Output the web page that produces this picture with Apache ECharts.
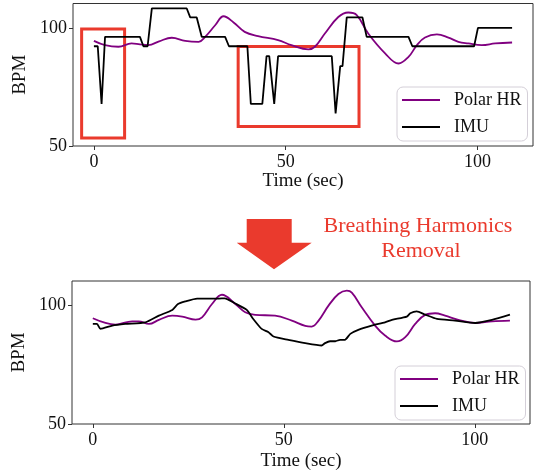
<!DOCTYPE html>
<html>
<head>
<meta charset="utf-8">
<script src="https://cdn.jsdelivr.net/npm/echarts@6/dist/echarts.min.js"></script>
<style>
  html, body { margin: 0; padding: 0; background: #fff; }
  #chart { width: 542px; height: 475px; }
</style>
</head>
<body>
<div id="chart"></div>
<script>
// Raw heart-rate traces (seconds, BPM) before breathing-harmonics removal
const rawPolarT  = [0, 2.9, 6.4, 9.8, 12, 14.2, 17, 20.3, 23.8, 27.3, 29, 31.6, 33.8, 36.4, 39.3, 42.8, 48, 51.5, 55.9, 57.6, 60.2, 63.7, 66.3, 68.5, 71.5, 75.9, 79.4, 82, 84.2, 86.3, 89.4, 92.4, 95, 97.6, 101.1, 104.6, 109];
const rawPolarHR = [94.5, 92.7, 92.0, 93.4, 93.0, 92.7, 94.3, 95.8, 94.5, 94.1, 96.2, 101.1, 104.9, 102.3, 98.3, 96.5, 94.8, 92.7, 90.9, 92.0, 97.6, 104.6, 106.5, 105.4, 97.6, 89.2, 84.9, 87.7, 92.7, 95.9, 97.2, 95.9, 94.1, 93.4, 92.7, 93.4, 93.8];

const rawImuT  = [0, 1, 2, 2.9, 12, 12.9, 14, 15.1, 24.2, 25.1, 26.8, 28.1, 34.2, 35.2, 40, 40.9, 43.9, 45, 45.7, 47, 48, 62, 63, 64.2, 64.8, 65.9, 70, 71.1, 82, 83, 99.1, 100.1, 109];
const rawImuHR = [92.2, 92.2, 67.8, 96.2, 96.2, 92.2, 92.2, 108.2, 108.2, 104.4, 104.4, 96.2, 96.2, 92.2, 92.2, 67.8, 67.8, 88, 88, 67.8, 88, 88, 63.8, 83.8, 83.8, 104.4, 104.4, 96.2, 96.2, 92.2, 92.2, 100, 100];

// Traces after breathing-harmonics removal
const cleanPolarT  = [0, 3.3, 5.9, 10.3, 12, 14.7, 17.3, 20.8, 23.4, 26.9, 28.6, 31.2, 33.8, 37.3, 39.9, 42.5, 47.7, 52.1, 55.6, 57.3, 59.1, 61.7, 64.3, 66.5, 67.8, 70.4, 73.9, 76.5, 79.6, 81.8, 84.4, 87, 89.6, 92.2, 95.7, 100.1, 104.5, 109.2];
const cleanPolarHR = [94.6, 92.6, 91.9, 93.3, 93.3, 92.2, 93.9, 95.7, 95.3, 94.0, 95.0, 100.6, 104.5, 100.6, 97.1, 96.0, 95.7, 93.6, 91.4, 91.1, 93.6, 99.9, 104.8, 106.2, 105.4, 99.2, 91.5, 87.3, 84.8, 86.6, 92.2, 96.0, 96.7, 95.7, 93.9, 92.6, 93.3, 93.6];

const cleanImuT  = [0, 1.1, 2, 5.1, 8.5, 13.8, 17.3, 20.8, 22.3, 24.2, 27.3, 33, 34.5, 37.3, 40.3, 42, 44.2, 46, 47.3, 51.2, 55.6, 59.9, 60.8, 62.1, 63.5, 64.7, 66, 67.4, 69.5, 73, 76.5, 78.3, 82.2, 83.1, 84.8, 87, 90.1, 94.8, 100.1, 104.5, 109.2];
const cleanImuHR = [92.2, 92.2, 90.1, 91.5, 92.2, 92.9, 95.7, 98.1, 100.6, 101.7, 102.9, 102.9, 103.0, 100.8, 98.1, 94.3, 90.1, 88.7, 86.9, 85.5, 84.1, 83.1, 84.1, 84.9, 84.9, 85.5, 85.5, 88.0, 89.7, 91.5, 92.9, 93.9, 95.3, 96.7, 97.5, 96.1, 94.3, 93.6, 92.6, 93.9, 96.1];

// Tick values and the highlighted windows (data coordinates: [t0, bpm0, t1, bpm1])
const xTicks = [0, 50, 100];
const yTicks = [50, 100];
const artifactWindows = [[-3.2, 99.5, 8.0, 53.4], [37.6, 92.1, 69.1, 58.2]];

const zip = (a, b) => a.map((v, i) => [v, b[i]]);

const SERIF = '"Liberation Serif", "Times New Roman", serif';
const RED = '#ea3a2d';
const PURPLE = '#800080';

function xAxisCfg(gridIndex, nameGap) {
  return {
    type: 'value', gridIndex, min: -5.45, max: 114.45,
    name: 'Time (sec)', nameLocation: 'middle', nameGap,
    nameTextStyle: { fontFamily: SERIF, fontSize: 19, color: '#111' },
    axisLine: { show: false, onZero: false },
    splitLine: { show: false },
    axisTick: { show: true, inside: false, length: 4, customValues: xTicks, lineStyle: { color: '#333' } },
    axisLabel: { customValues: xTicks, margin: 7, fontFamily: SERIF, fontSize: 18, color: '#111' }
  };
}
function yAxisCfg(gridIndex) {
  return {
    type: 'value', gridIndex, min: 50, max: 110.3,
    name: 'BPM', nameLocation: 'middle', nameGap: 39,
    nameTextStyle: { fontFamily: SERIF, fontSize: 19, color: '#111' },
    axisLine: { show: false, onZero: false },
    splitLine: { show: false },
    axisTick: { show: true, inside: false, length: 4, customValues: yTicks, lineStyle: { color: '#333' } },
    axisLabel: { customValues: yTicks, margin: 6, fontFamily: SERIF, fontSize: 18, color: '#111' }
  };
}
function legendCfg(left, top) {
  return {
    data: [{ name: 'Polar HR', icon: 'rect' }, { name: 'IMU', icon: 'rect' }],
    orient: 'vertical', left, top,
    itemWidth: 38, itemHeight: 2, itemGap: 9,
    padding: [4, 6, 5, 5],
    backgroundColor: '#fff',
    borderColor: '#d4cfd8', borderWidth: 1, borderRadius: 6,
    selectedMode: false,
    textStyle: { fontFamily: SERIF, fontSize: 18, color: '#111', padding: [0, 0, 0, 9], lineHeight: 18 }
  };
}
function lineSeries(name, data, color, idx, smooth, extra) {
  return Object.assign({
    name, type: 'line', data, xAxisIndex: idx, yAxisIndex: idx,
    symbol: 'none', smooth, animation: false,
    lineStyle: { color, width: 1.8 }, itemStyle: { color }
  }, extra || {});
}

const chart = echarts.init(document.getElementById('chart'), null, { renderer: 'canvas' });
chart.setOption({
  backgroundColor: '#fff',
  animation: false,
  grid: [
    { left: 73, top: 3.5, width: 460, height: 142.5, show: true, borderColor: '#333', borderWidth: 1, backgroundColor: 'transparent' },
    { left: 72, top: 281, width: 458, height: 143, show: true, borderColor: '#333', borderWidth: 1, backgroundColor: 'transparent' }
  ],
  xAxis: [xAxisCfg(0, 26), xAxisCfg(1, 28)],
  yAxis: [yAxisCfg(0), yAxisCfg(1)],
  legend: [legendCfg(397, 87), legendCfg(395, 366)],
  series: [
    lineSeries('Polar HR', zip(rawPolarT, rawPolarHR), PURPLE, 0, 0.4),
    lineSeries('IMU', zip(rawImuT, rawImuHR), '#000', 0, false, {
      markArea: {
        silent: true,
        itemStyle: { color: 'rgba(0,0,0,0)', borderColor: RED, borderWidth: 3 },
        data: artifactWindows.map(w => [{ coord: [w[0], w[1]] }, { coord: [w[2], w[3]] }])
      }
    }),
    lineSeries('Polar HR', zip(cleanPolarT, cleanPolarHR), PURPLE, 1, 0.4),
    lineSeries('IMU', zip(cleanImuT, cleanImuHR), '#000', 1, 0.2)
  ],
  graphic: [
    {
      type: 'polygon',
      shape: { points: [[246.7, 219], [291.7, 219], [291.7, 242.7], [311.7, 242.7], [274, 269.3], [236.7, 242.7], [246.7, 242.7]] },
      style: { fill: RED }
    },
    {
      type: 'text', x: 418, y: 226,
      style: { text: 'Breathing Harmonics', fill: RED, font: '22px ' + SERIF, textAlign: 'center', textVerticalAlign: 'middle' }
    },
    {
      type: 'text', x: 421, y: 251,
      style: { text: 'Removal', fill: RED, font: '22px ' + SERIF, textAlign: 'center', textVerticalAlign: 'middle' }
    }
  ]
});
</script>
</body>
</html>
